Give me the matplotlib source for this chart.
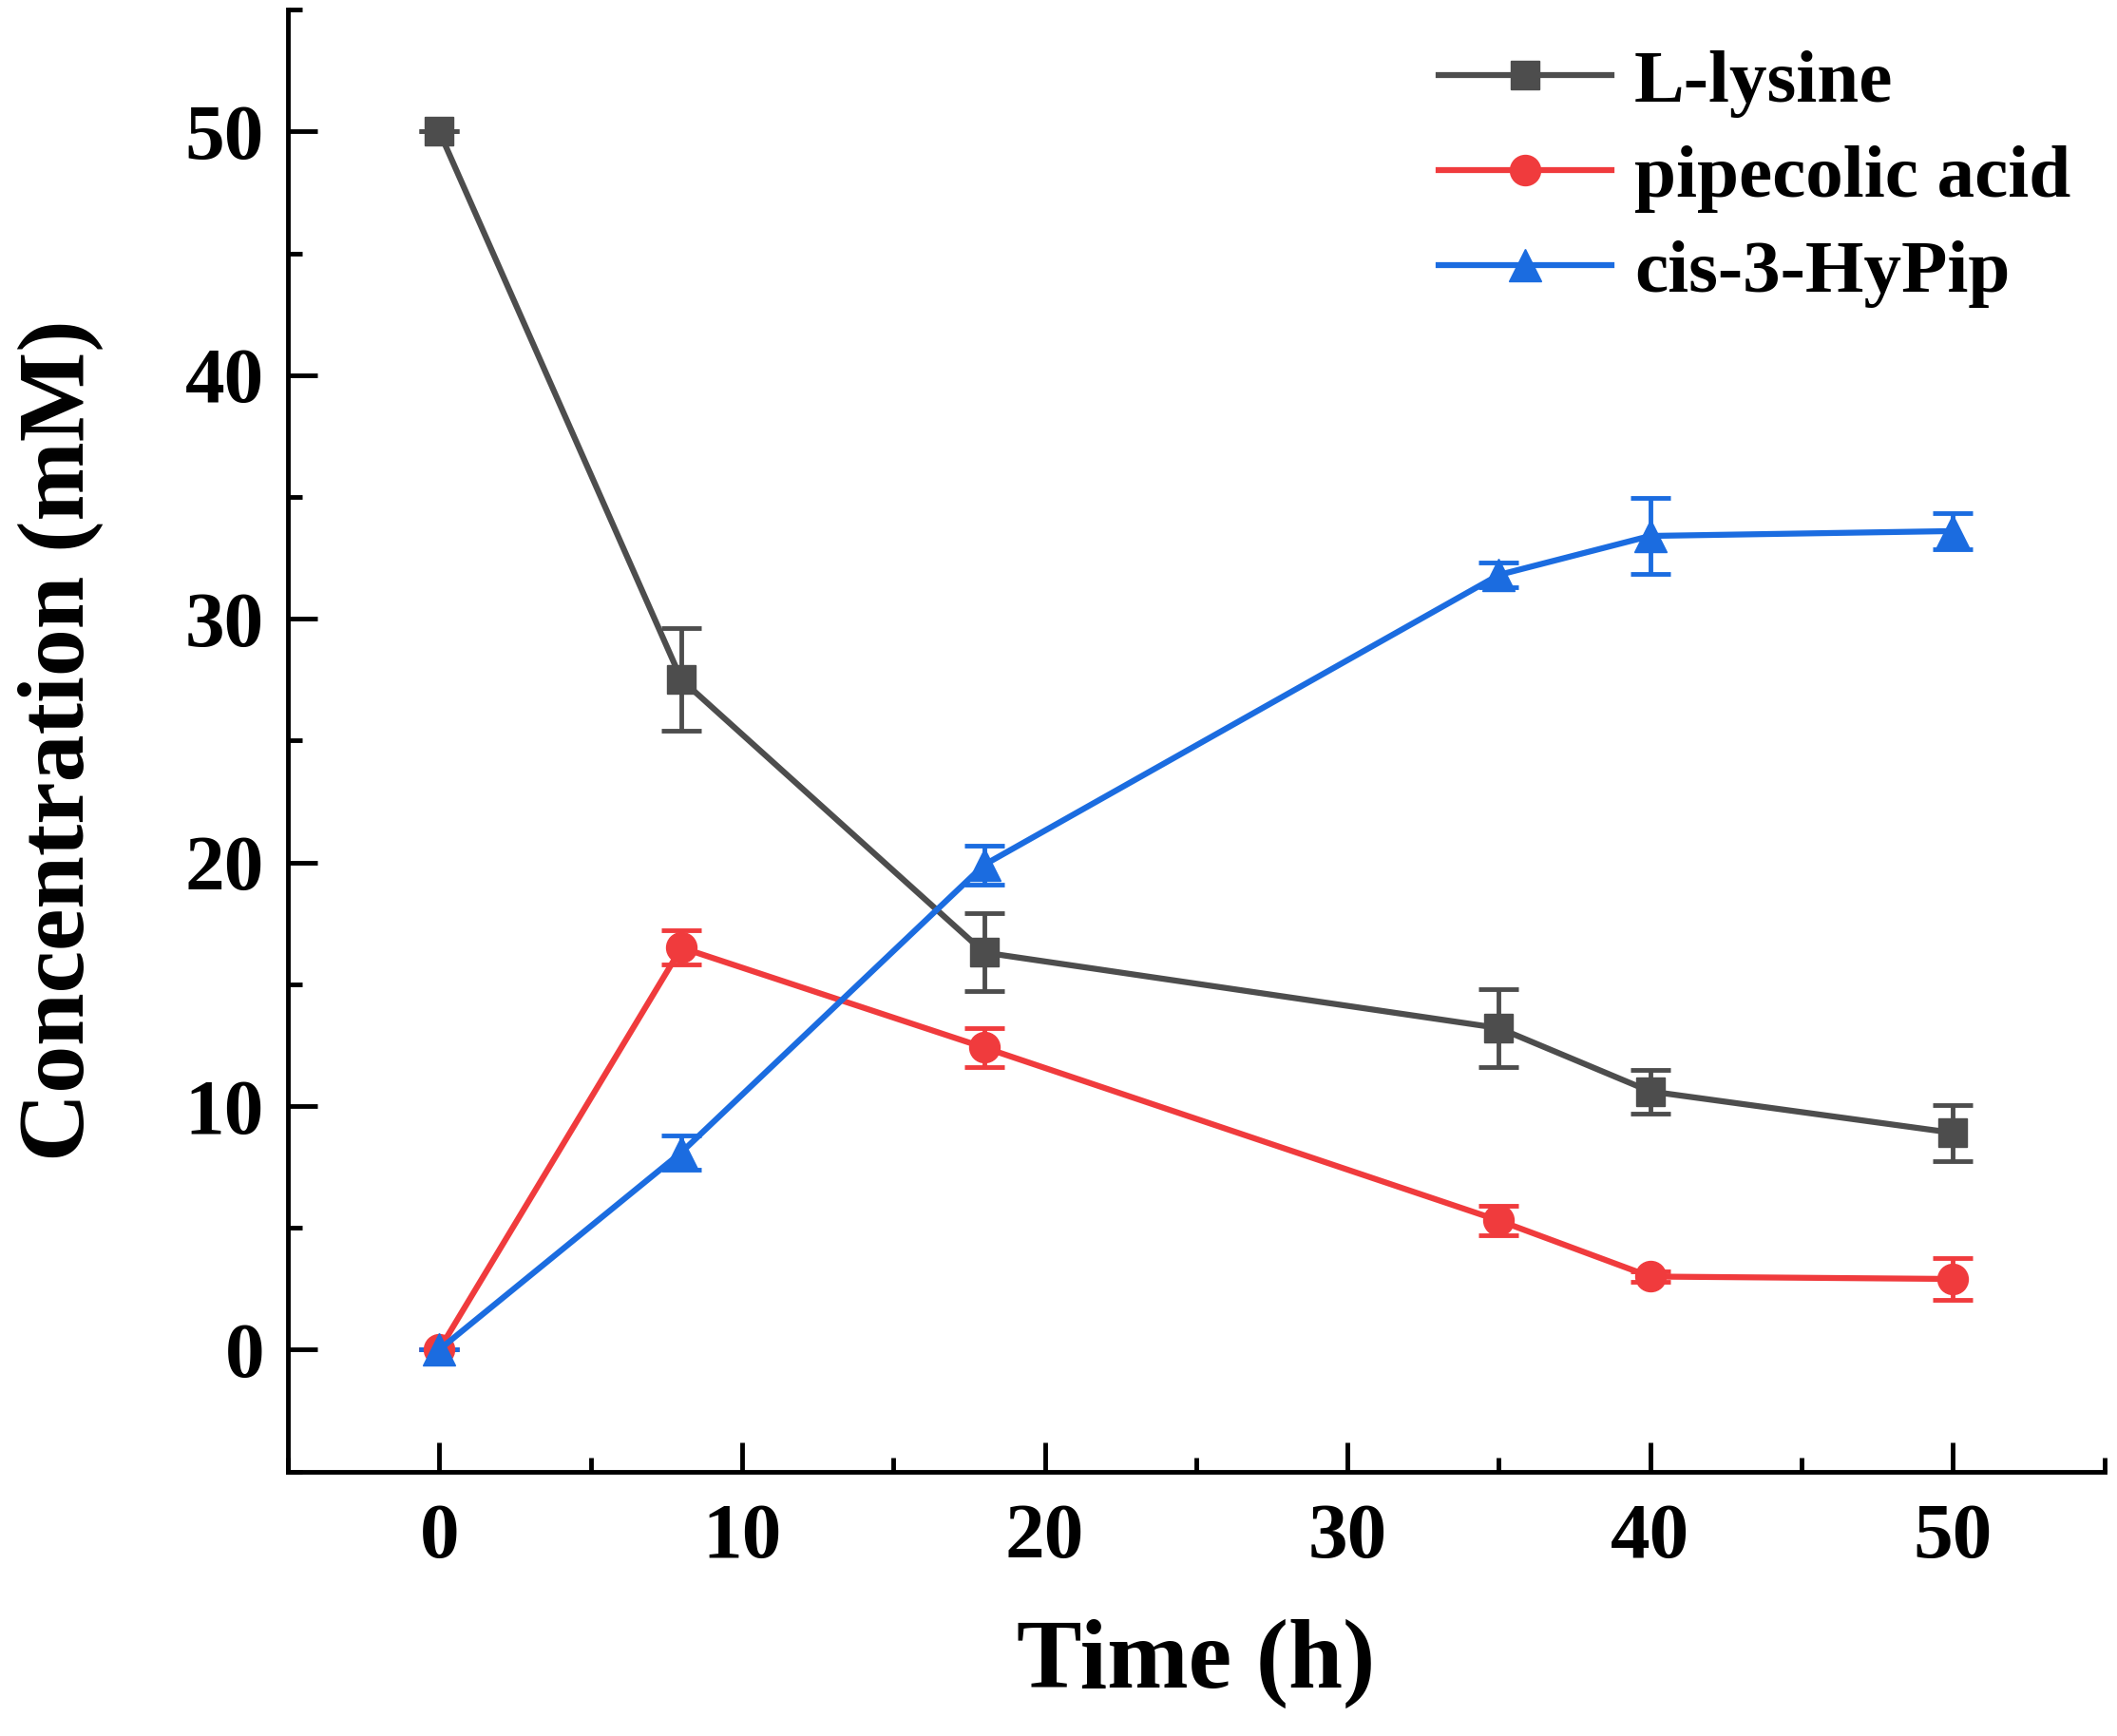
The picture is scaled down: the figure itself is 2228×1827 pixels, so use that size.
import matplotlib
matplotlib.use('Agg')
import matplotlib.pyplot as plt
from matplotlib.ticker import MultipleLocator

# data
time_h = [0, 8, 18, 35, 40, 50]
lysine = [50.0, 27.5, 16.3, 13.2, 10.6, 8.9]
lysine_err = [0.0, 2.1, 1.6, 1.6, 0.9, 1.15]
pipecolic = [0.0, 16.5, 12.4, 5.3, 3.0, 2.9]
pipecolic_err = [0.0, 0.7, 0.8, 0.6, 0.2, 0.85]
hypip = [0.0, 8.1, 19.9, 31.8, 33.4, 33.6]
hypip_err = [0.0, 0.7, 0.8, 0.5, 1.55, 0.75]

labels = ['L-lysine', 'pipecolic acid', 'cis-3-HyPip']
colors = ['#4d4d4d', '#f03b3d', '#1b6ce0']
markers = ['s', 'o', '^']

plt.rcParams['font.family'] = ['Liberation Serif', 'DejaVu Serif']
plt.rcParams['font.weight'] = 'bold'

fig = plt.figure(figsize=(22.28, 18.27), dpi=100)
ax = fig.add_axes([0.136, 0.1524, 0.858, 0.842])

series = [(lysine, lysine_err), (pipecolic, pipecolic_err), (hypip, hypip_err)]
msizes = [22, 23, 25]
for (vals, errs), lab, c, m, ms in zip(series, labels, colors, markers, msizes):
    ax.errorbar(time_h, vals, yerr=errs, fmt='-' + m, color=c, ecolor=c,
                lw=4.5, ms=ms, elinewidth=3.5, capsize=15, capthick=3.5,
                label=lab)

ax.set_xlim(-5, 55)
ax.set_ylim(-5, 55)
ax.xaxis.set_major_locator(MultipleLocator(10))
ax.xaxis.set_minor_locator(MultipleLocator(5))
ax.yaxis.set_major_locator(MultipleLocator(10))
ax.yaxis.set_minor_locator(MultipleLocator(5))

for s in ['top', 'right']:
    ax.spines[s].set_visible(False)
for s in ['left', 'bottom']:
    ax.spines[s].set_linewidth(3.5)

ax.tick_params(which='major', direction='in', length=22, width=3.5, labelsize=60)
ax.tick_params(which='minor', direction='in', length=11, width=3.5)
ax.tick_params(axis='x', which='major', pad=24)
ax.tick_params(axis='y', which='major', pad=18)
for t in ax.get_xticklabels() + ax.get_yticklabels():
    t.set_fontweight('bold')

ax.set_xlabel('Time (h)', fontsize=74, fontweight='bold', labelpad=34)
ax.set_ylabel('Concentration (mM)', fontsize=72, fontweight='bold', labelpad=62)

handles, labs = ax.get_legend_handles_labels()
handles = [h[0] for h in handles]
fig.legend(handles, labs, loc='upper left', bbox_to_anchor=(0.6795, 0.972),
           frameon=False, handlelength=2.3, handletextpad=0.3,
           labelspacing=0.35, borderpad=0, borderaxespad=0,
           prop={'weight': 'bold', 'size': 57})

fig.savefig('out.png', dpi=100)
